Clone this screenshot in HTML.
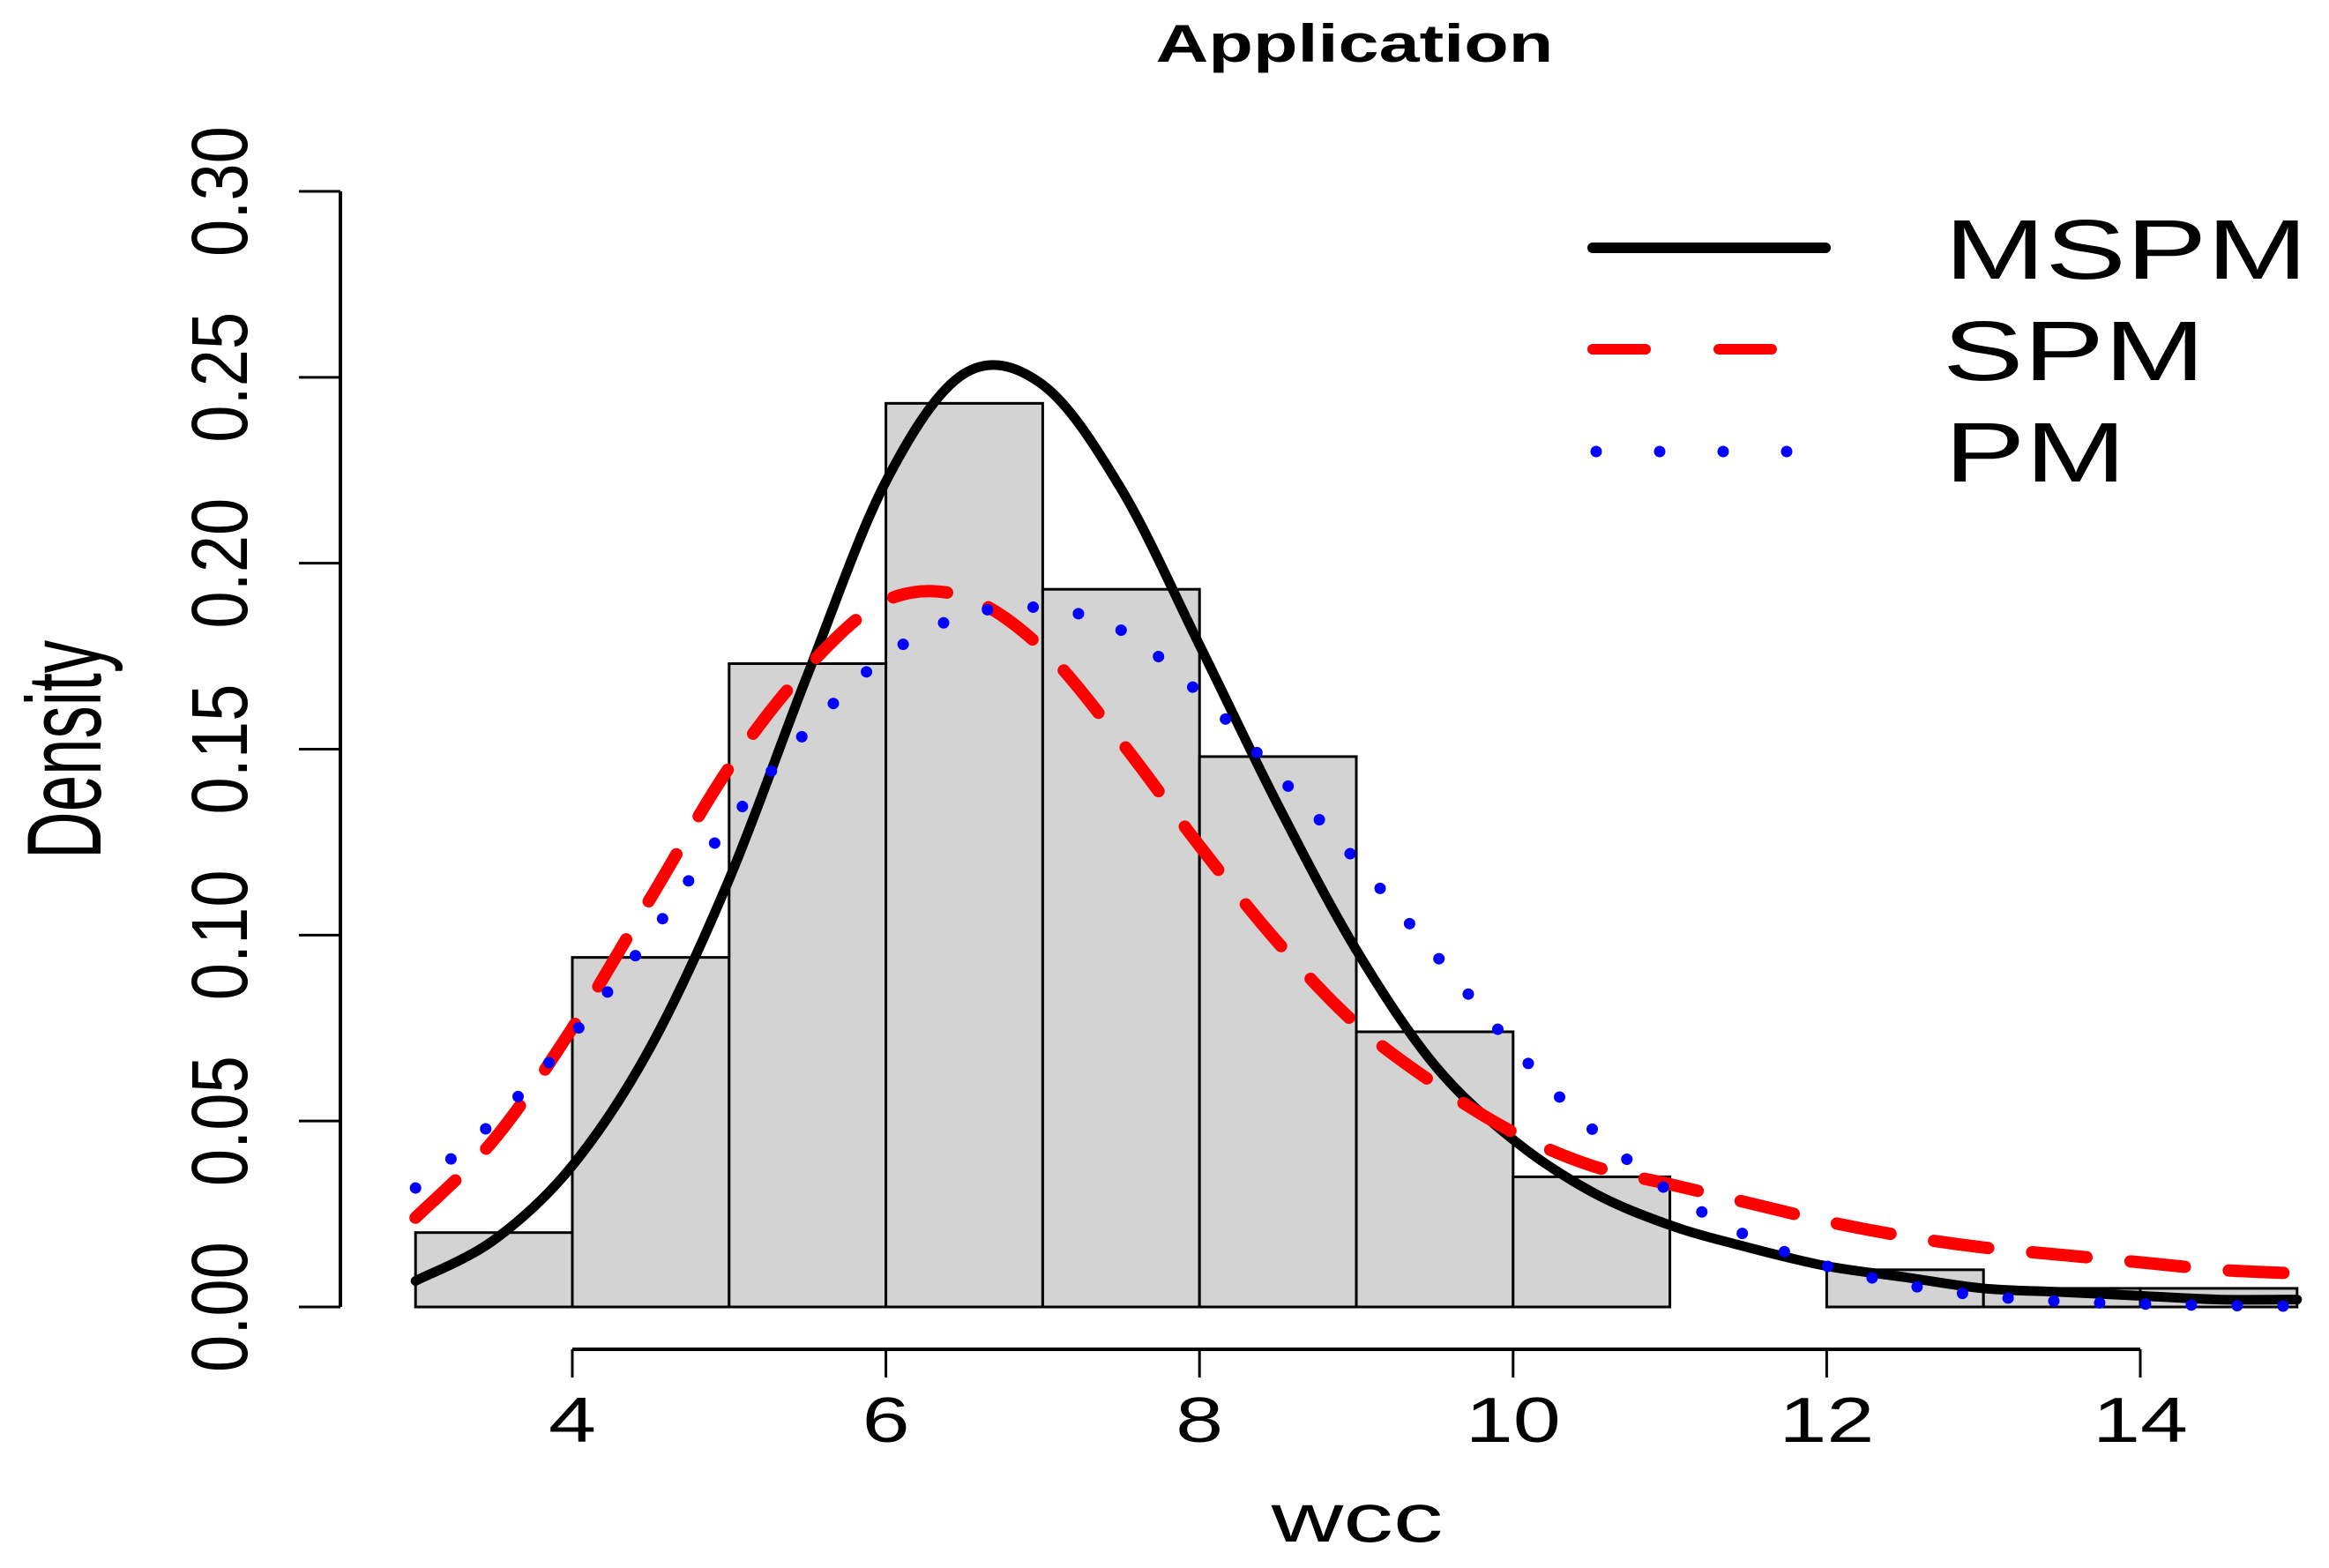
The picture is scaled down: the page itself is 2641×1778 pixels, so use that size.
<!DOCTYPE html>
<html><head><meta charset="utf-8"><style>
html,body{margin:0;padding:0;background:#fff;}
svg{display:block;font-family:"Liberation Sans",sans-serif;}
</style></head><body>
<svg id="chart" width="2641" height="1778" viewBox="0 0 2641 1778" xmlns="http://www.w3.org/2000/svg">
<text x="1536" y="70" font-size="60" font-weight="bold" text-anchor="middle" transform="translate(1536 0) scale(1.38 1) translate(-1536 0)">Application</text>
<g id="bars"></g>
<g id="curves"></g>
<g id="yaxis"></g>
<g id="xaxis"></g>
<text x="0" y="0" font-size="120" text-anchor="middle" transform="translate(114 850) rotate(-90) scale(0.62 1)">Density</text>
<text x="0" y="0" font-size="78" text-anchor="middle" transform="translate(1539 1748) scale(1.45 1)">wcc</text>
<g id="legend">
<line x1="1806" y1="281" x2="2070" y2="281" stroke="#000" stroke-width="12" stroke-linecap="round"/>
<line x1="1806" y1="396" x2="2070" y2="396" stroke="#f00" stroke-width="12" stroke-linecap="round" stroke-dasharray="60 83"/>
<line x1="1810" y1="512" x2="2040" y2="512" stroke="#00f" stroke-width="13" stroke-linecap="round" stroke-dasharray="0 72"/>
<text x="0" y="0" font-size="96" transform="translate(2205 316) scale(1.43 1)">MSPM</text>
<text x="0" y="0" font-size="96" transform="translate(2203 431) scale(1.43 1)">SPM</text>
<text x="0" y="0" font-size="96" transform="translate(2205 546) scale(1.43 1)">PM</text>
</g>
</svg>
<script>
const binEdges=[3,4,5,6,7,8,9,10,11,12,13,14,15];
const binDensity=[0.020,0.094,0.173,0.243,0.193,0.148,0.074,0.035,0,0.010,0.005,0.005];
const curveX=[3,3.5,4,4.5,5,5.5,6,6.5,7,7.5,8,8.5,9,9.5,10,10.5,11,11.5,12,12.5,13,13.5,14,14.5,15];
const mspmY=[0.007,0.018,0.038,0.07,0.115,0.17,0.222,0.251,0.248,0.22,0.178,0.135,0.096,0.065,0.045,0.031,0.022,0.016,0.011,0.008,0.005,0.004,0.003,0.002,0.002];
const spmY=[0.024,0.045,0.075,0.11,0.145,0.172,0.19,0.191,0.177,0.152,0.124,0.098,0.076,0.06,0.047,0.038,0.033,0.028,0.023,0.019,0.016,0.014,0.012,0.010,0.009];
const pmY=[0.032,0.05,0.073,0.10,0.13,0.155,0.175,0.186,0.188,0.182,0.165,0.143,0.12,0.095,0.07,0.048,0.031,0.019,0.011,0.006,0.003,0.0015,0.0008,0.0004,0.0002];
const xTicks=[4,6,8,10,12,14];
const yTicks=["0.00","0.05","0.10","0.15","0.20","0.25","0.30"];

const NS="http://www.w3.org/2000/svg";
function sx(v){return 649+(v-4)*(2427-649)/10;}
function sy(v){return 1482-v*(1482-217)/0.30;}
function mk(tag,attrs,parent){const e=document.createElementNS(NS,tag);for(const k in attrs)e.setAttribute(k,attrs[k]);parent.appendChild(e);return e;}

const bars=document.getElementById('bars');
binDensity.forEach((d,i)=>{
  const x0=sx(binEdges[i]),x1=sx(binEdges[i+1]);
  const r=mk('rect',{x:x0,y:sy(d),width:x1-x0,height:sy(0)-sy(d),fill:'#d3d3d3',stroke:'#000','stroke-width':3},bars);
  
  
});

const curves=document.getElementById('curves');
function smoothPath(ys){
  const pts=curveX.map((x,i)=>[sx(x),sy(ys[i])]);
  let d='M'+pts[0][0]+' '+pts[0][1];
  for(let i=0;i<pts.length-1;i++){
    const p0=pts[i-1]||pts[i],p1=pts[i],p2=pts[i+1],p3=pts[i+2]||p2;
    const c1=[p1[0]+(p2[0]-p0[0])/6,p1[1]+(p2[1]-p0[1])/6];
    const c2=[p2[0]-(p3[0]-p1[0])/6,p2[1]-(p3[1]-p1[1])/6];
    d+=' C'+c1[0]+' '+c1[1]+' '+c2[0]+' '+c2[1]+' '+p2[0]+' '+p2[1];
  }
  return d;
}
const c1=mk('path',{d:smoothPath(mspmY),fill:'none',stroke:'#000','stroke-width':11,'stroke-linecap':'round'},curves);


const c2=mk('path',{d:smoothPath(spmY),fill:'none',stroke:'#f00','stroke-width':14,'stroke-linecap':'round','stroke-dasharray':'62 50'},curves);


const c3=mk('path',{d:smoothPath(pmY),fill:'none',stroke:'#00f','stroke-width':13,'stroke-linecap':'round','stroke-dasharray':'0 52'},curves);



const ya=document.getElementById('yaxis');
const yl=mk('line',{x1:386,y1:sy(0),x2:386,y2:sy(0.30),stroke:'#000','stroke-width':4},ya);


yTicks.forEach(t=>{
  const y=sy(parseFloat(t));
  const tk=mk('line',{x1:339,y1:y,x2:386,y2:y,stroke:'#000','stroke-width':3},ya);
  
  
  const tx=mk('text',{x:0,y:0,'font-size':100,'text-anchor':'middle',transform:'translate(280 '+y+') rotate(-90) scale(0.76 0.9)'},ya);
  tx.textContent=t;
  
  
});

const xa=document.getElementById('xaxis');
const xl=mk('line',{x1:sx(xTicks[0]),y1:1530,x2:sx(xTicks[xTicks.length-1]),y2:1530,stroke:'#000','stroke-width':4},xa);


xTicks.forEach(t=>{
  const x=sx(t);
  const tk=mk('line',{x1:x,y1:1530,x2:x,y2:1562,stroke:'#000','stroke-width':3},xa);
  
  
  const tx=mk('text',{x:0,y:0,'font-size':72,'text-anchor':'middle',transform:'translate('+x+' 1635) scale(1.35 1)'},xa);
  tx.textContent=t;
  
  
});
</script>
</body></html>
